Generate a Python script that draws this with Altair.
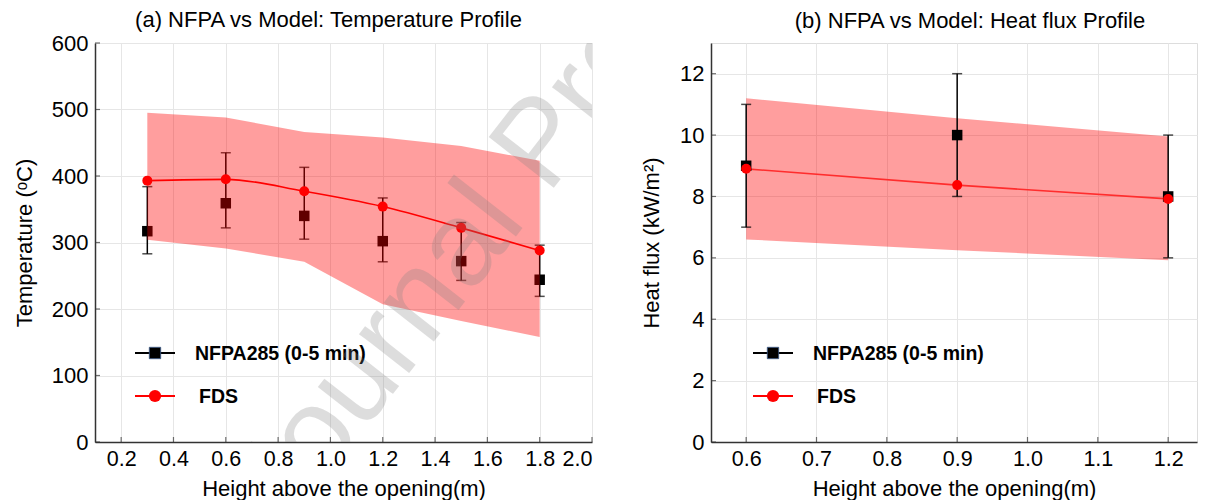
import altair as alt
import pandas as pd

FONT = "Liberation Sans"

# ---------------- data: panel (a) temperature ----------------
x_temp = [0.3, 0.6, 0.9, 1.2, 1.5, 1.8]
nfpa_temp = [317, 359, 340, 302, 272, 244]
nfpa_temp_lo = [283, 322, 305, 271, 243, 219]
nfpa_temp_hi = [384, 435, 413, 367, 330, 296]
fds_temp = [393, 395, 377, 354, 322, 288]
band_temp_lo = [304, 291, 271, 207, 182, 158]
band_temp_hi = [495, 488, 466, 458, 445, 423]
xticks_temp = [0.2, 0.4, 0.6, 0.8, 1.0, 1.2, 1.4, 1.6, 1.8, 2.0]
yticks_temp = [0, 100, 200, 300, 400, 500, 600]

# ---------------- data: panel (b) heat flux ----------------
x_hf = [0.6, 0.9, 1.2]
nfpa_hf = [9.0, 10.0, 8.0]
nfpa_hf_lo = [7.0, 8.0, 6.0]
nfpa_hf_hi = [11.0, 12.0, 10.0]
fds_hf = [8.9, 8.37, 7.92]
band_hf_lo = [6.6, 6.25, 5.92]
band_hf_hi = [11.2, 10.55, 9.95]
xticks_hf = [0.6, 0.7, 0.8, 0.9, 1.0, 1.1, 1.2]
yticks_hf = [0, 2, 4, 6, 8, 10, 12]

legend_labels = ["NFPA285 (0-5 min)", "FDS"]
titles = ["(a) NFPA vs Model: Temperature Profile", "(b) NFPA vs Model: Heat flux Profile"]
xtitle = "Height above the opening(m)"
ytitles = ["Temperature (ᵒC)", "Heat flux  (kW/m²)"]
watermark = "Journal Pre-proof"


def make_panel(xv, nf, nlo, nhi, fd, blo, bhi, xdom, ydom, xticks, yticks, yfmt,
               ytitle, title, W, H, extent, tpad, title_dx, title_off, smooth, leg_dx, wm=False):
    df = pd.DataFrame({"x": xv, "nfpa": nf, "lo": nlo, "hi": nhi, "fds": fd,
                       "blo": blo, "bhi": bhi})
    xaxis = alt.Axis(values=xticks, format=".1f", title=xtitle, grid=True,
                     gridColor="#e6e6e6", ticks=False, labelPadding=6,
                     titlePadding=9, domainColor="#333333", domainWidth=1.5,
                     labelFontSize=21.5, titleFontSize=22, labelFont=FONT, titleFont=FONT,
                     labelColor="black", titleColor="black", titleFontWeight="normal")
    yaxis = alt.Axis(values=yticks, format=yfmt, title=ytitle, grid=True,
                     gridColor="#e6e6e6", ticks=False, labelPadding=7,
                     minExtent=extent, maxExtent=extent, titlePadding=tpad,
                     domainColor="#333333", domainWidth=1.5,
                     labelFontSize=22, titleFontSize=22, labelFont=FONT, titleFont=FONT,
                     labelColor="black", titleColor="black", titleFontWeight="normal")
    xs = alt.Scale(domain=xdom, nice=False, zero=False)
    ys = alt.Scale(domain=ydom, nice=False, zero=False)

    def X(f):
        return alt.X(f"{f}:Q", scale=xs, axis=xaxis, title=xtitle)

    def Y(f):
        return alt.Y(f"{f}:Q", scale=ys, axis=yaxis, title=ytitle)

    base = alt.Chart(df)
    err = base.mark_rule(color="black", strokeWidth=1.5).encode(x=X("x"), y=Y("lo"), y2="hi")
    cap_lo = base.mark_tick(color="black", thickness=1.5, size=10, orient="horizontal").encode(x=X("x"), y=Y("lo"))
    cap_hi = base.mark_tick(color="black", thickness=1.5, size=10, orient="horizontal").encode(x=X("x"), y=Y("hi"))
    sq = base.mark_point(shape="square", filled=True, size=110, color="black", opacity=1).encode(x=X("x"), y=Y("nfpa"))
    band = base.mark_area(color="#ff0000", opacity=0.38).encode(x=X("x"), y=Y("blo"), y2="bhi")
    if smooth:
        line = base.mark_line(color="#ff0000", strokeWidth=1.6, interpolate="monotone").encode(x=X("x"), y=Y("fds"))
    else:
        line = base.mark_line(color="#ff4a4a", strokeWidth=1.6).encode(x=X("x"), y=Y("fds"))
    pts = base.mark_circle(color="#ff0000", size=100, opacity=1).encode(x=X("x"), y=Y("fds"))

    # inner ticks
    yt = alt.Chart(pd.DataFrame({"v": yticks})).mark_tick(
        color="#333333", thickness=1.2, size=5, orient="horizontal"
    ).encode(y=Y("v"), x=alt.value(2.5))
    xt = alt.Chart(pd.DataFrame({"v": xticks})).mark_tick(
        color="#333333", thickness=1.2, size=5, orient="vertical"
    ).encode(x=X("v"), y=alt.value(H - 2.5))

    # legend
    one = alt.Chart(pd.DataFrame({"a": [0]}))
    l1y, l2y = H - 89, H - 46
    lg = [
        one.mark_rule(color="black", strokeWidth=2).encode(x=alt.value(leg_dx), x2=alt.value(leg_dx + 40), y=alt.value(l1y)),
        one.mark_point(shape="square", filled=True, size=130, color="black", opacity=1,
                       stroke="#3b5a8a", strokeWidth=0.8).encode(x=alt.value(leg_dx + 20), y=alt.value(l1y)),
        one.mark_text(text=legend_labels[0], font=FONT, fontSize=19.5, fontWeight="bold", align="left",
                      baseline="middle", color="black").encode(x=alt.value(leg_dx + 60), y=alt.value(l1y + 1)),
        one.mark_rule(color="#ff0000", strokeWidth=2).encode(x=alt.value(leg_dx), x2=alt.value(leg_dx + 40), y=alt.value(l2y)),
        one.mark_circle(size=150, color="#ff0000", opacity=1).encode(x=alt.value(leg_dx + 20), y=alt.value(l2y)),
        one.mark_text(text=legend_labels[1], font=FONT, fontSize=19.5, fontWeight="bold", align="left",
                      baseline="middle", color="black").encode(x=alt.value(leg_dx + 64), y=alt.value(l2y + 1)),
    ]
    if smooth:
        layers = [err, cap_lo, cap_hi, sq, band, line, pts]
    else:
        layers = [line, band, err, cap_lo, cap_hi, sq, pts]
    layers += [yt, xt] + lg
    if wm:
        layers.append(one.mark_text(text=watermark, font=FONT, fontSize=120, angle=308, align="left",
                                    baseline="alphabetic", color="#808080", opacity=0.26,
                                    clip=True).encode(
            x=alt.value(190), y=alt.value(H + 90)))
    return alt.layer(*layers).properties(
        width=W, height=H,
        title=alt.TitleParams(title, font=FONT, fontSize=22, fontWeight="normal", color="black",
                              anchor="middle", dx=title_dx, offset=title_off),
    )


left = make_panel(x_temp, nfpa_temp, nfpa_temp_lo, nfpa_temp_hi, fds_temp, band_temp_lo, band_temp_hi,
                  [0.1, 2.0], [0, 600], xticks_temp, yticks_temp, "d", ytitles[0], titles[0],
                  497, 399, 44, 15, -15, 0, True, 40, wm=True)
right = make_panel(x_hf, nfpa_hf, nfpa_hf_lo, nfpa_hf_hi, fds_hf, band_hf_lo, band_hf_hi,
                   [0.55, 1.241], [0, 13], xticks_hf, yticks_hf, "d", ytitles[1], titles[1],
                   486, 399, 32, 16, 16, 10, False, 42)

chart = alt.hconcat(left, right, spacing=45).properties(
    padding={"left": 4, "top": 0, "right": 0, "bottom": 0}
).configure_view(stroke="#333333", strokeWidth=1.5).configure(background="white")

chart.save("out.html", embed_options={"renderer": "svg", "actions": False})
